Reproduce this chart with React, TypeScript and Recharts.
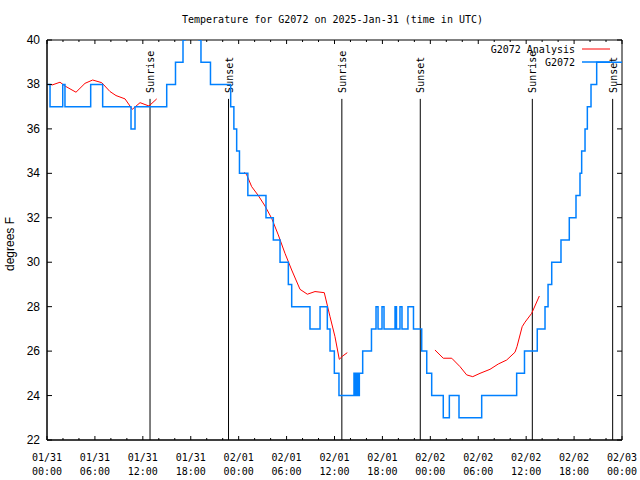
import React from 'react';
import { LineChart, Line, XAxis, YAxis, ReferenceLine, ReferenceArea } from 'recharts';

const MONO = '"DejaVu Sans Mono", "Liberation Mono", monospace';
const SANS = '"Liberation Sans", Arial, sans-serif';

const TITLE = 'Temperature for G2072 on 2025-Jan-31 (time in UTC)';
const Y_LABEL = 'degrees F';

// Observations (G2072), hours since 01/31 00:00 UTC, step changes
const obsHours = [0, 0.38, 1.97, 2.25, 5.47, 6.97, 10.52, 11.02, 14.99, 16.09, 17.03, 17.28, 19.03, 19.28, 20.47,
  23.0, 23.4, 23.75, 24.1, 25.15, 27.42, 28.34, 29.18, 30.22, 30.64, 32.93, 34.19, 35.1, 35.44, 35.98, 36.56,
  38.44, 38.63, 38.75, 38.94, 39.11, 39.53, 40.63, 41.2, 41.45, 41.95, 42.2, 43.58, 43.76, 44.2, 44.45, 45.2, 45.89,
  46.92, 47.55, 48.17, 49.62, 50.38, 51.59, 54.43, 58.81, 59.79, 61.39, 62.36, 62.74, 63.2, 64.36, 65.4, 66.24,
  66.74, 66.95, 67.37, 67.66, 68.12, 68.83, 72];
const obsTemps = [38, 37, 38, 37, 38, 37, 36, 37, 38, 39, 40, 41, 40, 39, 38,
  37, 36, 35, 34, 33, 32, 31, 30, 29, 28, 27, 28, 27, 26, 25, 24,
  25, 24, 25, 24, 25, 26, 27, 28, 27, 28, 27, 28, 27, 28, 27, 28, 27,
  26, 25, 24, 23, 24, 23, 24, 25, 26, 27, 28, 29, 30, 31, 32, 33,
  34, 35, 36, 37, 38, 39, 39];

// Analysis (G2072 Analysis), null = gap
const anaHours = [0.59, 1.63, 2.25, 3.63, 4.76, 5.72, 6.85, 7.89, 8.64, 9.77, 10.68, 11.65, 12.77, 13.74,
  18,
  24.71, 25.01, 25.63, 26.46, 27.3, 28.14, 28.96, 29.8, 30.64, 31.68, 32.6, 33.56, 34.72, 35.44, 36.06, 36.6, 37.03, 37.6,
  43,
  48.58, 49.62, 50.68, 51.72, 52.55, 53.31, 54.22, 55.47, 56.51, 57.56, 58.6, 58.85, 59.5, 59.85, 60.69, 61.65];
const anaTemps = [37.97, 38.1, 37.93, 37.65, 38.05, 38.2, 38.08, 37.68, 37.5, 37.35, 36.88, 37.18, 37.03, 37.35,
  null,
  34.05, 33.93, 33.4, 33.0, 32.53, 31.97, 31.23, 30.4, 29.65, 28.78, 28.56, 28.68, 28.63, 27.55, 26.65, 25.63, 25.78, 25.93,
  null,
  26.05, 25.68, 25.68, 25.3, 24.93, 24.85, 25.0, 25.18, 25.42, 25.6, 25.95, 26.2, 27.1, 27.3, 27.7, 28.48];

const sunHours = [12.9, 22.73, 36.92, 46.74, 60.77, 70.83];
const sunNames = ['Sunrise', 'Sunset', 'Sunrise', 'Sunset', 'Sunrise', 'Sunset'];
const SUN_LINE_TOP = 37.35;

const xTicks = [0, 2, 4, 6, 8, 10, 12, 14, 16, 18, 20, 22, 24, 26, 28, 30, 32, 34, 36, 38, 40, 42, 44, 46, 48,
  50, 52, 54, 56, 58, 60, 62, 64, 66, 68, 70, 72];
const xLabelHours = [0, 6, 12, 18, 24, 30, 36, 42, 48, 54, 60, 66, 72];
const xLabelDates = ['01/31', '01/31', '01/31', '01/31', '02/01', '02/01', '02/01', '02/01', '02/02', '02/02', '02/02', '02/02', '02/03'];
const xLabelTimes = ['00:00', '06:00', '12:00', '18:00', '00:00', '06:00', '12:00', '18:00', '00:00', '06:00', '12:00', '18:00', '00:00'];
const yTicks = [22, 24, 26, 28, 30, 32, 34, 36, 38, 40];

const SERIES = [
  { name: 'G2072 Analysis', color: '#ff0000', width: 1 },
  { name: 'G2072', color: '#0080ff', width: 1.5 },
];

const obsData = obsHours.map((h, i) => ({ h, t: obsTemps[i] }));
const anaData = anaHours.map((h, i) => ({ h, t: anaTemps[i] }));

const W = 640, H = 480;
const M = { top: 40, right: 18, bottom: 0, left: 0 };
const Y_W = 47, X_H = 40;
const P_LEFT = M.left + Y_W, P_RIGHT = W - M.right, P_TOP = M.top, P_BOTTOM = H - X_H;

const XTick = (props: any) => {
  const { x, payload } = props;
  const v = payload.value;
  const li = xLabelHours.indexOf(v);
  const len = li >= 0 ? 4 : 2;
  return (
    <g>
      <line x1={x} x2={x} y1={P_BOTTOM} y2={P_BOTTOM - len} stroke="#000" />
      <line x1={x} x2={x} y1={P_TOP} y2={P_TOP + len} stroke="#000" />
      {li >= 0 && (
        <text x={x} y={P_BOTTOM + 21} textAnchor="middle" fontFamily={MONO} fontSize={10} fill="#000">
          <tspan x={x}>{xLabelDates[li]}</tspan>
          <tspan x={x} dy={14}>{xLabelTimes[li]}</tspan>
        </text>
      )}
    </g>
  );
};

const YTick = (props: any) => {
  const { y, payload } = props;
  return (
    <g>
      <line x1={P_LEFT} x2={P_LEFT + 5} y1={y} y2={y} stroke="#000" />
      <line x1={P_RIGHT} x2={P_RIGHT - 5} y1={y} y2={y} stroke="#000" />
      <text x={P_LEFT - 7} y={y + 4} textAnchor="end" fontFamily={SANS} fontSize={12} fill="#000">{payload.value}</text>
    </g>
  );
};

const SunLabel = (props: any) => {
  const { viewBox, text } = props;
  if (!viewBox) return null;
  const x = viewBox.x + 4;
  const y = viewBox.y - 6;
  return (
    <text transform={`translate(${x},${y}) rotate(-90)`} fontFamily={MONO} fontSize={10} fill="#000">{text}</text>
  );
};

const YLabel = (props: any) => {
  const { viewBox } = props;
  const cx = 14;
  const cy = (viewBox ? viewBox.y + viewBox.height / 2 : 240) + 4;
  return (
    <text transform={`translate(${cx},${cy}) rotate(-90)`} textAnchor="middle" fontFamily={SANS} fontSize={12} fill="#000">{Y_LABEL}</text>
  );
};

export default function App() {
  return (
    <div style={{ position: 'absolute', left: 0, top: 0, width: W, height: H, background: '#fff' }}>
      <LineChart width={W} height={H} margin={M}>
        <XAxis dataKey="h" type="number" domain={[0, 72]} ticks={xTicks} interval={0} height={X_H}
          tick={<XTick />} tickLine={false} axisLine={{ stroke: '#000' }} allowDataOverflow />
        <YAxis type="number" domain={[22, 40]} ticks={yTicks} interval={0} width={Y_W}
          tick={<YTick />} tickLine={false} axisLine={{ stroke: '#000' }} allowDataOverflow
          label={<YLabel />} />
        <ReferenceArea x1={0} x2={72} y1={22} y2={40} fill="none" stroke="#000" strokeWidth={1} ifOverflow="visible" />
        {sunHours.map((h, i) => (
          <ReferenceLine key={i} segment={[{ x: h, y: 22 }, { x: h, y: SUN_LINE_TOP }]} stroke="#000" strokeWidth={1}
            label={<SunLabel text={sunNames[i]} />} ifOverflow="visible" />
        ))}
        <Line data={anaData} dataKey="t" name={SERIES[0].name} stroke={SERIES[0].color} strokeWidth={SERIES[0].width}
          dot={false} type="linear" connectNulls={false} isAnimationActive={false} />
        <Line data={obsData} dataKey="t" name={SERIES[1].name} stroke={SERIES[1].color} strokeWidth={SERIES[1].width}
          dot={false} type="stepAfter" isAnimationActive={false} />
      </LineChart>
      <svg width={W} height={H} style={{ position: 'absolute', left: 0, top: 0, pointerEvents: 'none' }}>
        <text x={332.5} y={23} textAnchor="middle" fontFamily={MONO} fontSize={10} fill="#000">{TITLE}</text>
        {SERIES.map((s, i) => (
          <g key={s.name}>
            <text x={575} y={53 + i * 13} textAnchor="end" fontFamily={MONO} fontSize={10} fill="#000">{s.name}</text>
            <line x1={582} x2={610} y1={49 + i * 13} y2={49 + i * 13} stroke={s.color} strokeWidth={s.width} />
          </g>
        ))}
      </svg>
    </div>
  );
}
